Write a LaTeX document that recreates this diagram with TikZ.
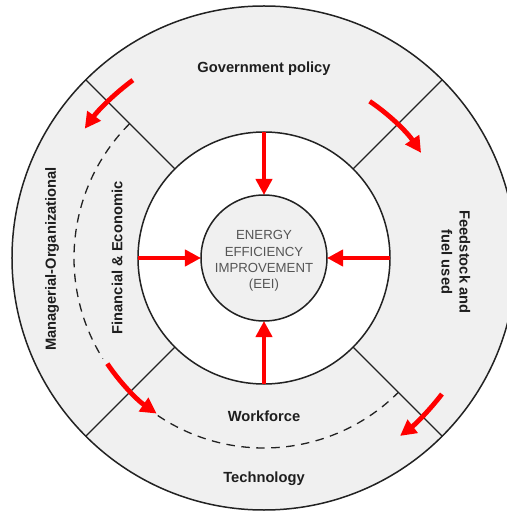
\documentclass[tikz,border=0pt]{standalone}
\usepackage{fontspec}
\setmainfont{Liberation Sans}
\usetikzlibrary{arrows.meta}
\definecolor{ringgrey}{HTML}{F0F0F0}
\definecolor{inkline}{HTML}{222222}
\definecolor{labelink}{HTML}{1E1E1E}
\definecolor{eeiink}{HTML}{555555}
\definecolor{flowred}{HTML}{FF0000}

\begin{document}
\begin{tikzpicture}[x=1pt,y=1pt,
  ring/.style={circle, draw=inkline, line width=1.5pt, inner sep=0pt, outer sep=0pt},
  divider/.style={draw=inkline, line width=1.3pt},
  pathway/.style={draw=inkline, line width=1.3pt, dash pattern=on 8.5pt off 6.5pt},
  influence/.style={draw=flowred, line width=4.8pt, -{Triangle[length=16pt,width=16pt]}},
  factor/.style={font=\fontsize{14.7}{18}\selectfont\bfseries, text=labelink, align=center, inner sep=0pt},
  core/.style={font=\fontsize{13.2}{16.3}\selectfont, text=eeiink, align=center, inner sep=0pt}
]
\useasboundingbox (-264,-256) rectangle (242,258);

% three concentric rings
\node[ring, fill=ringgrey, minimum size=504pt] (outer) at (0,0) {};
\node[ring, fill=white, minimum size=252pt] (mid) at (0,0) {};
\node[ring, fill=ringgrey, minimum size=126pt] (eei) at (0,0) {};
\node[core] (eeilabel) at (0,-3) {ENERGY\\EFFICIENCY\\IMPROVEMENT\\(EEI)};

% sector dividers of the outer ring
\foreach \a in {45,135,225,315}
  \draw[divider] (\a:126) -- (\a:252);

% dashed inner track through the left and lower sectors, broken by the red arrow
\draw[pathway] (135:190) arc[start angle=135, end angle=212, radius=190];
\draw[pathway] (236:190) arc[start angle=236, end angle=315, radius=190];

% factor labels
\node[factor] (gov) at (0,189) {Government policy};
\node[factor] (work) at (0,-158) {Workforce};
\node[factor] (tech) at (0,-221) {Technology};
\node[factor, rotate=90] (manage) at (-212,-1) {Managerial-Organizational};
\node[factor, rotate=90] (finance) at (-147,0) {Financial \& Economic};
\node[factor, rotate=-90] (feed) at (192,-4) {Feedstock and\\fuel used};

% direct influences on EEI
\draw[influence] (mid.north) -- (eei.north);
\draw[influence] (mid.south) -- (eei.south);
\draw[influence] (mid.west) -- (eei.west);
\draw[influence] (mid.east) -- (eei.east);

% curved influences between sectors
\coordinate (tl) at (126.4:221);
\coordinate (tr) at (56:189);
\coordinate (bl) at (214:189);
\coordinate (br) at (-37.4:224);
\draw[influence] (tl) arc[start angle=126.4, end angle=144.2, radius=221];
\draw[influence] (tr) arc[start angle=56, end angle=33.8, radius=189];
\draw[influence] (bl) arc[start angle=214, end angle=235.4, radius=189];
\draw[influence] (br) arc[start angle=-37.4, end angle=-52.6, radius=224];
\end{tikzpicture}
\end{document}
